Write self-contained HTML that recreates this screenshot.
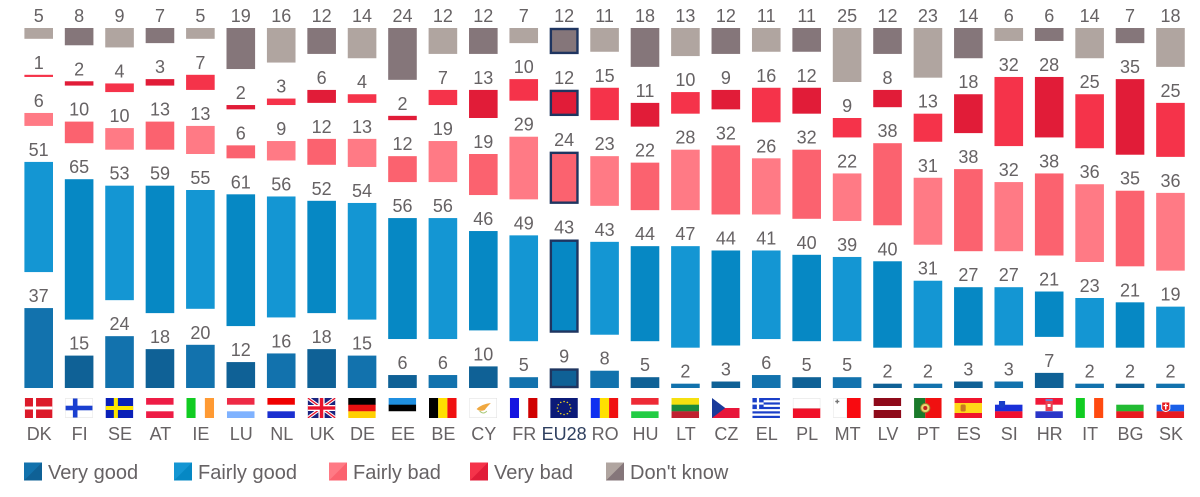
<!DOCTYPE html>
<html lang="en">
<head>
<meta charset="utf-8">
<title>Stacked bars by country</title>
<style>
html,body{margin:0;padding:0;background:#fff;width:1200px;height:497px;overflow:hidden}
svg{display:block}
#chart{filter:blur(0.35px)}
text{font-family:"Liberation Sans",sans-serif;fill:#666264}
</style>
</head>
<body>
<svg id="chart" width="1200" height="497" viewBox="0 0 1200 497" xmlns="http://www.w3.org/2000/svg"></svg>
<script>
const countries = ["DK","FI","SE","AT","IE","LU","NL","UK","DE","EE","BE","CY","FR","EU28","RO","HU","LT","CZ","EL","PL","MT","LV","PT","ES","SI","HR","IT","BG","SK"];
const veryGood   = [37,15,24,18,20,12,16,18,15,6,6,10,5,9,8,5,2,3,6,5,5,2,2,3,3,7,2,2,2];
const fairlyGood = [51,65,53,59,55,61,56,52,54,56,56,46,49,43,43,44,47,44,41,40,39,40,31,27,27,21,23,21,19];
const fairlyBad  = [6,10,10,13,13,6,9,12,13,12,19,19,29,24,23,22,28,32,26,32,22,38,31,38,32,38,36,35,36];
const veryBad    = [1,2,4,3,7,2,3,6,4,2,7,13,10,12,15,11,10,9,16,12,9,8,13,18,32,28,25,35,25];
const dontKnow   = [5,8,9,7,5,19,16,12,14,24,12,12,7,12,11,18,13,12,11,11,25,12,23,14,6,6,14,7,18];
const seriesNames = ["Very good","Fairly good","Fairly bad","Very bad","Don't know"];
const seriesValues = [veryGood,fairlyGood,fairlyBad,veryBad,dontKnow];

const NS = "http://www.w3.org/2000/svg";
const chart = document.getElementById("chart");
const BASE_Y = 388, UNIT = 2.16, SERIES_GAP = 36, BAR_W = 28.6, FIRST_X = 24.4, PITCH = 40.42;
const lightColors = ["#1272ad","#1496d3","#ff7a85","#f5334a","#b0a5a0"];
const darkColors  = ["#0f6196","#0688c4","#fb626f","#e11c38","#85767a"];
const slug = s => s.toLowerCase().replace(/[^a-z0-9]+/g,"-");
const xScale = i => FIRST_X + i * PITCH;
const hScale = v => v * UNIT;

function make(tag, attrs, parent){
  const el = document.createElementNS(NS, tag);
  for (const k in attrs) el.setAttribute(k, attrs[k]);
  parent.appendChild(el);
  return el;
}
function stripesH(a,b,c){return `<rect width="27" height="7" fill="${a}"/><rect y="6.7" width="27" height="6.7" fill="${b}"/><rect y="13.3" width="27" height="6.7" fill="${c}"/>`;}
function stripesV(a,b,c){return `<rect width="9" height="20" fill="${a}"/><rect x="9" width="9" height="20" fill="${b}"/><rect x="18" width="9" height="20" fill="${c}"/>`;}
function euStars(){let s='<rect width="27" height="20" fill="#0b1a78"/>';for(let k=0;k<12;k++){const a=k*Math.PI/6;s+=`<circle cx="${13.5+6.5*Math.cos(a)}" cy="${10+6.5*Math.sin(a)}" r="0.8" fill="#e8d020"/>`;}return s;}
const flags = {
  DK:'<rect width="27" height="20" fill="#dc1a2a"/><rect x="8" width="3" height="20" fill="#fff"/><rect y="8.5" width="27" height="3" fill="#fff"/>',
  FI:'<rect width="27" height="20" fill="#fff"/><rect x="7.5" width="4.5" height="20" fill="#1a3fd0"/><rect y="7.7" width="27" height="4.6" fill="#1a3fd0"/><rect x=".25" y=".25" width="26.5" height="19.5" fill="none" stroke="#ddd" stroke-width=".5"/>',
  SE:'<rect width="27" height="20" fill="#0a20b8"/><rect x="8" width="4" height="20" fill="#ffe600"/><rect y="8" width="27" height="4" fill="#ffe600"/>',
  AT:stripesH("#ee1c45","#fff","#ee1c45"),
  IE:stripesV("#11cc22","#fff","#ff9a33"),
  LU:stripesH("#ee2a45","#fff","#7fb2ff"),
  NL:stripesH("#f00000","#fff","#1a2fd0"),
  UK:'<rect width="27" height="20" fill="#1a237e"/><path d="M0 0L27 20M27 0L0 20" stroke="#fff" stroke-width="3.4"/><path d="M0 0L27 20M27 0L0 20" stroke="#e8142c" stroke-width="1.3"/><rect x="10.5" width="6" height="20" fill="#fff"/><rect y="7" width="27" height="6" fill="#fff"/><rect x="11.8" width="3.4" height="20" fill="#e8142c"/><rect y="8.3" width="27" height="3.4" fill="#e8142c"/>',
  DE:stripesH("#000","#e81010","#ffd000"),
  EE:stripesH("#1f8fe0","#000","#fff"),
  BE:stripesV("#000","#ffe000","#f01010"),
  CY:'<rect width="27" height="20" fill="#fff"/><path d="M7 11Q12 6 21 5Q17 9 15 12Q10 14 7 11Z" fill="#f0a840"/><path d="M10 13Q14 17 17 13" stroke="#a8c878" fill="none"/><rect x=".25" y=".25" width="26.5" height="19.5" fill="none" stroke="#ddd" stroke-width=".5"/>',
  FR:stripesV("#1515e0","#fff","#d00000"),
  EU28:euStars(),
  RO:stripesV("#1030f0","#ffe000","#f01010"),
  HU:stripesH("#ee2a35","#fff","#22cc44"),
  LT:stripesH("#f5e010","#1a8a3c","#c02030"),
  CZ:'<rect width="27" height="10" fill="#fff"/><rect y="10" width="27" height="10" fill="#e8163a"/><polygon points="0,0 13,10 0,20" fill="#1a3a9a"/>',
  EL:'<rect width="27" height="20" fill="#fff"/><rect y="0" width="27" height="2.2" fill="#1a3fc8"/><rect y="4.4" width="27" height="2.2" fill="#1a3fc8"/><rect y="8.9" width="27" height="2.2" fill="#1a3fc8"/><rect y="13.3" width="27" height="2.2" fill="#1a3fc8"/><rect y="17.8" width="27" height="2.2" fill="#1a3fc8"/><rect width="11" height="11" fill="#1a3fc8"/><rect x="4.4" width="2.2" height="11" fill="#fff"/><rect y="4.4" width="11" height="2.2" fill="#fff"/>',
  PL:'<rect width="27" height="10" fill="#fff"/><rect y="10" width="27" height="10" fill="#f01028"/><rect x=".25" y=".25" width="26.5" height="10" fill="none" stroke="#ddd" stroke-width=".5"/>',
  MT:'<rect width="13.5" height="20" fill="#fff"/><rect x="13.5" width="13.5" height="20" fill="#f80a10"/><rect x="2" y="2.8" width="4" height="1.4" fill="#777"/><rect x="3.3" y="1.5" width="1.4" height="4" fill="#777"/><rect x=".25" y=".25" width="13" height="19.5" fill="none" stroke="#ddd" stroke-width=".5"/>',
  LV:'<rect width="27" height="8" fill="#8e0a1a"/><rect y="8" width="27" height="4" fill="#fff"/><rect y="12" width="27" height="8" fill="#8e0a1a"/>',
  PT:'<rect width="11" height="20" fill="#1a7a2a"/><rect x="11" width="16" height="20" fill="#f01010"/><circle cx="11" cy="10" r="4.5" fill="#e8d870" stroke="#a08030"/><circle cx="11" cy="10" r="2" fill="#c02020"/>',
  ES:'<rect width="27" height="20" fill="#f0142c"/><rect y="5" width="27" height="10" fill="#ffd818"/><rect x="6" y="6.5" width="5" height="7" rx="1.5" fill="#c87820"/>',
  SI:stripesH("#fff","#1a30d8","#f01030")+'<path d="M4 3h6v5q-3 4-6 0z" fill="#1a3fc8"/>',
  HR:stripesH("#f01838","#fff","#2a35c8")+'<rect x="10" y="3" width="7" height="10" fill="#e84050"/><rect x="12" y="6" width="3" height="3" fill="#fff"/><rect x="10" y="1" width="7" height="2" fill="#6a80d8"/>',
  IT:stripesV("#11cc22","#fff","#ff4a10"),
  BG:stripesH("#fff","#22bb33","#e81a20"),
  SK:stripesH("#fff","#1a60e8","#e81a20")+'<path d="M5 4h8v7q-4 5-8 0z" fill="#e81a20" stroke="#fff" stroke-width="1"/><rect x="8.3" y="5.5" width="1.4" height="6" fill="#fff"/><rect x="6.8" y="7" width="4.4" height="1.2" fill="#fff"/>'
};

countries.forEach((country, i) => {
  const g = make("g", {}, chart);
  
  
  const highlight = country === "EU28";
  let bottom = BASE_Y;
  seriesValues.forEach((series, s) => {
    const h = hScale(series[i]);
    const top = bottom - h;
    const fill = (i % 2 === 0 ? lightColors : darkColors)[s];
    const bar = make("rect", {x:xScale(i), y:top, width:BAR_W, height:h, fill:fill}, g);
    
    
    if (highlight) {
      bar.setAttribute('x', xScale(i) + 1);
      bar.setAttribute('y', top + 1);
      bar.setAttribute('width', BAR_W - 2);
      bar.setAttribute('height', Math.max(h - 2, 0));
      bar.setAttribute('stroke', '#1f3560');
      bar.setAttribute('stroke-width', '2.4');
    }
    const label = make("text", {x:xScale(i) + BAR_W / 2, y:top - 6, "text-anchor":"middle", "font-size":18}, g);
    label.textContent = series[i];
    
    
    bottom = top - SERIES_GAP;
  });
  const flag = make("svg", {x:xScale(i) + 0.4, y:398, width:27.6, height:20, viewBox:"0 0 27 20", preserveAspectRatio:"none"}, g);
  flag.innerHTML = flags[country];
  
  
  const tick = make("text", {x:xScale(i) + BAR_W / 2 + (highlight ? 0 : 0.5), y:440, "text-anchor":"middle", "font-size":18}, g);
  tick.textContent = country;
  if (highlight) tick.style.fill = "#2f4060";
  
  
});

const legendX = [24, 174, 329, 470, 606];
const legend = make("g", {}, chart);


seriesNames.forEach((name, s) => {
  const g = make("g", {}, legend);
  
  
  const x = legendX[s];
  const swatch = make("rect", {x:x, y:462.5, width:18, height:18, fill:lightColors[s]}, g);
  
  
  make("polygon", {points:`${x+18},462.5 ${x+18},480.5 ${x},480.5`, fill:darkColors[s]}, g);
  const t = make("text", {x:x + 24, y:479, "font-size":20}, g);
  t.textContent = name;
  
  
});
</script>
</body>
</html>
